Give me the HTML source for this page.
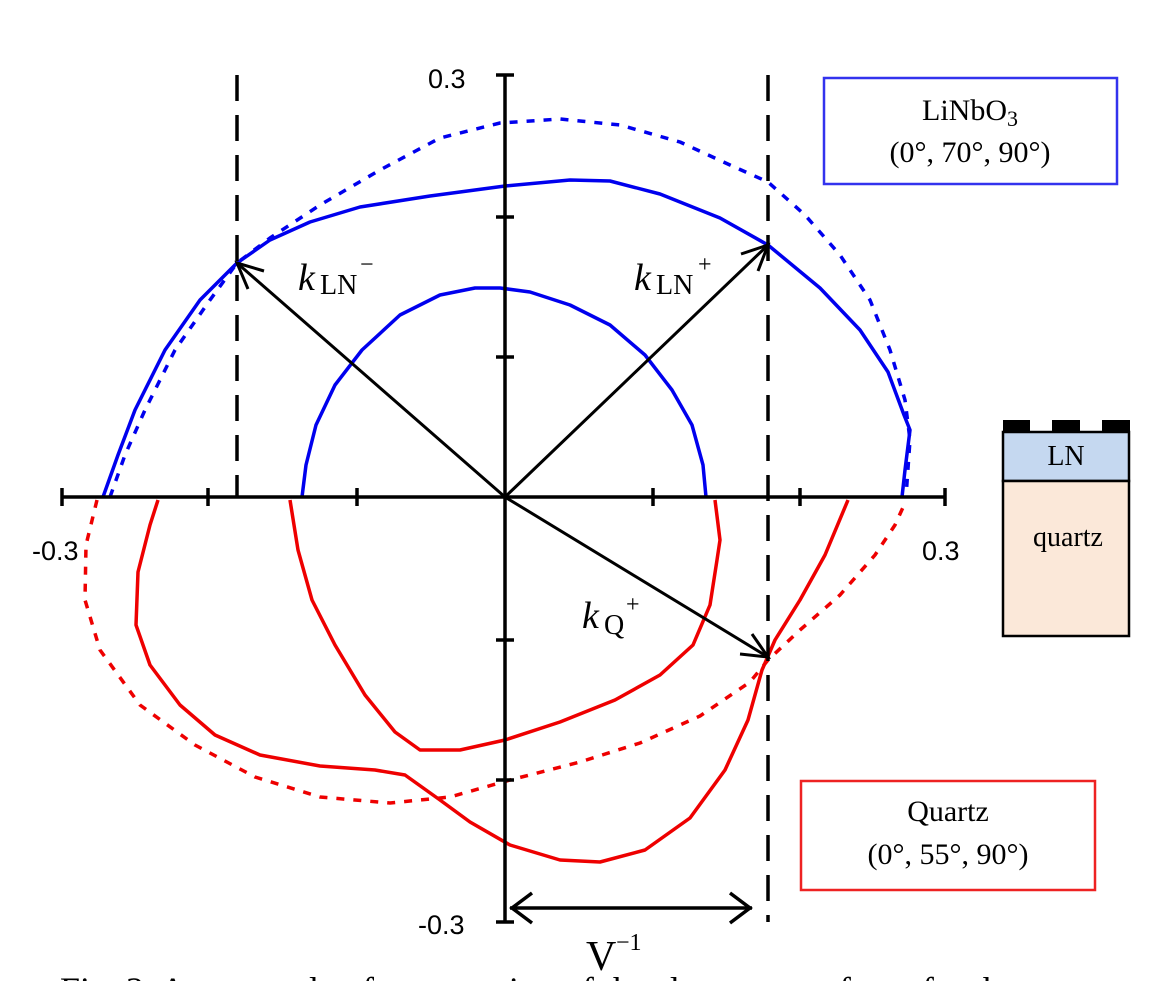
<!DOCTYPE html>
<html><head><meta charset="utf-8"><style>
html,body{margin:0;padding:0;background:#fff;}
svg{display:block;}
text{font-family:"Liberation Serif",serif;}
text.sans{font-family:"Liberation Sans",sans-serif;}
</style></head><body>
<svg width="1153" height="981" viewBox="0 0 1153 981" xmlns="http://www.w3.org/2000/svg">
<g fill="none" stroke-linejoin="round" stroke-linecap="butt">
<polyline stroke="#0000ee" stroke-width="3.5" stroke-dasharray="8,9" points="110,497 125,455 145,410 175,350 210,300 237,263 270,238 320,205 380,170 440,138 500,123 560,119 620,125 680,142 730,165 768,182 805,215 840,255 870,300 890,350 905,400 910,440 906,497"/>
<polyline stroke="#0000ee" stroke-width="3.5" points="103,497 118,455 135,410 165,350 200,300 237,263 270,240 310,222 360,207 430,196 505,186 570,180 610,181 660,194 720,218 768,245 820,288 860,330 888,372 904,415 910,430 905,470 902,497"/>
<polyline stroke="#0000ee" stroke-width="3.5" points="302,497 306,465 316,425 335,385 362,350 400,315 440,295 475,288 500,288 530,292 570,305 610,325 645,355 672,390 692,425 703,465 706,497"/>
<polyline stroke="#ee0000" stroke-width="3.5" stroke-dasharray="8,9" points="97,500 86,545 85,600 100,650 140,705 195,745 255,777 320,797 390,803 450,797 510,780 580,762 640,743 700,716 750,682 768,660 800,630 840,595 875,555 895,525 905,503"/>
<polyline stroke="#ee0000" stroke-width="3.5" points="158,500 150,525 138,572 136,625 150,665 180,705 215,735 260,755 320,766 375,770 405,775 440,800 470,822 510,845 560,860 600,862 645,850 690,818 725,770 748,720 762,670 775,640 800,600 825,555 848,500"/>
<polyline stroke="#ee0000" stroke-width="3.5" points="290,500 298,550 312,600 335,645 365,695 395,732 420,750 460,750 505,740 560,722 615,700 660,675 693,645 710,605 717,560 720,540 715,500"/>
</g>
<g stroke="#000" stroke-width="3.5" fill="none">
<line x1="62" y1="497" x2="945" y2="497"/>
<line x1="505" y1="75" x2="505" y2="922"/>
<line x1="62" y1="488" x2="62" y2="506"/><line x1="208" y1="488" x2="208" y2="506"/><line x1="357" y1="488" x2="357" y2="506"/><line x1="653" y1="488" x2="653" y2="506"/><line x1="800" y1="488" x2="800" y2="506"/><line x1="945" y1="488" x2="945" y2="506"/>
<line x1="496" y1="75" x2="514" y2="75"/><line x1="496" y1="217" x2="514" y2="217"/><line x1="496" y1="357" x2="514" y2="357"/><line x1="496" y1="640" x2="514" y2="640"/><line x1="496" y1="780" x2="514" y2="780"/><line x1="496" y1="922" x2="514" y2="922"/>
<line x1="237" y1="75" x2="237" y2="497" stroke-dasharray="26,14"/>
<line x1="768" y1="75" x2="768" y2="922" stroke-dasharray="26,14"/>
</g>
<g stroke="#000" stroke-width="3" fill="none" stroke-linejoin="miter">
<line x1="505" y1="497" x2="237" y2="263"/><polyline points="248,289 237,263 264,271"/>
<line x1="505" y1="497" x2="768" y2="245"/><polyline points="741,254 768,245 758,271"/>
<line x1="505" y1="497" x2="768" y2="657"/><polyline points="752,634 768,657 740,654"/>
<line x1="510" y1="908" x2="752" y2="908" stroke-width="3.5"/>
<polyline points="532,893 512,908 532,923" stroke-width="3.5"/>
<polyline points="730,893 750,908 730,923" stroke-width="3.5"/>
</g>
<text class="sans" x="428" y="88" font-size="27">0.3</text>
<text class="sans" x="418" y="934" font-size="27">-0.3</text>
<text class="sans" x="32" y="560" font-size="27">-0.3</text>
<text class="sans" x="922" y="560" font-size="27">0.3</text>
<text x="298" y="290" font-size="38" font-style="italic">k</text><text x="320" y="294" font-size="28">LN</text><text x="360" y="272" font-size="24">−</text>
<text x="634" y="290" font-size="38" font-style="italic">k</text><text x="656" y="294" font-size="28">LN</text><text x="698" y="272" font-size="24">+</text>
<text x="582" y="628" font-size="38" font-style="italic">k</text><text x="604" y="634" font-size="28">Q</text><text x="626" y="612" font-size="24">+</text>
<text x="586" y="970" font-size="42">V</text><text x="616" y="950" font-size="24">−1</text>
<rect x="824" y="78" width="293" height="106" fill="none" stroke="#3333ee" stroke-width="2.5"/>
<text x="970" y="120" font-size="30" text-anchor="middle">LiNbO<tspan font-size="22" dy="6">3</tspan></text>
<text x="970" y="162" font-size="30" text-anchor="middle">(0°, 70°, 90°)</text>
<rect x="801" y="781" width="294" height="109" fill="none" stroke="#ee2222" stroke-width="2.5"/>
<text x="948" y="821" font-size="30" text-anchor="middle">Quartz</text>
<text x="948" y="864" font-size="30" text-anchor="middle">(0°, 55°, 90°)</text>
<rect x="1003" y="432" width="126" height="49" fill="#c5d8f0" stroke="#000" stroke-width="2.5"/>
<rect x="1003" y="481" width="126" height="155" fill="#fbe8d9" stroke="#000" stroke-width="2.5"/>
<rect x="1003" y="420" width="27" height="12" fill="#000"/>
<rect x="1052" y="420" width="28" height="12" fill="#000"/>
<rect x="1102" y="420" width="28" height="12" fill="#000"/>
<text x="1066" y="465" font-size="28" text-anchor="middle">LN</text>
<text x="1068" y="546" font-size="28" text-anchor="middle">quartz</text>
<text x="60" y="1002" font-size="36" fill="#000">Fig.  2.  An  example  of  propagation  of  the  slowness  surfaces  for  the</text>
</svg>
</body></html>
